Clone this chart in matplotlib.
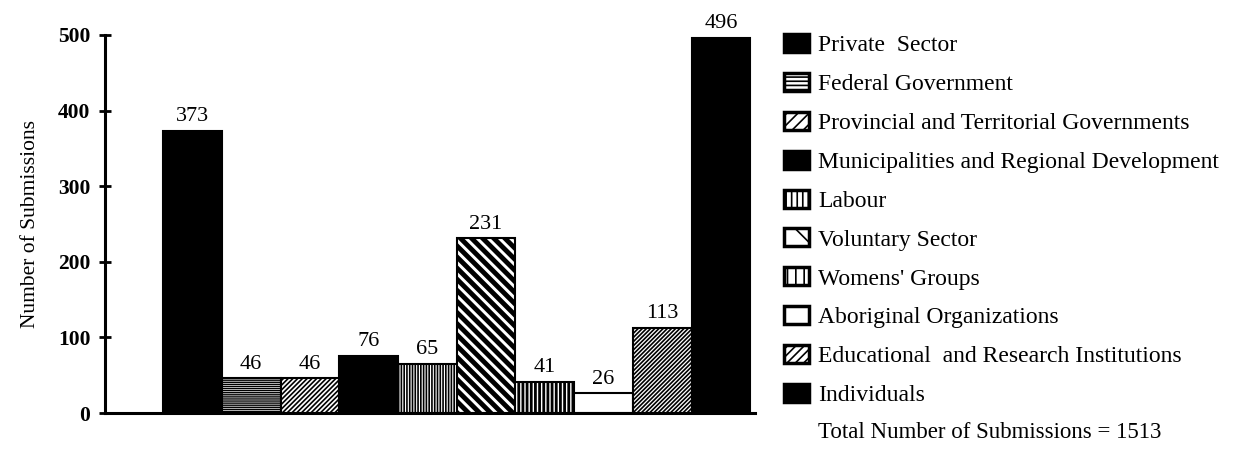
import matplotlib
matplotlib.use("Agg")
import matplotlib.pyplot as plt
from matplotlib.patches import Patch

categories = ["Private  Sector", "Federal Government",
              "Provincial and Territorial Governments",
              "Municipalities and Regional Development", "Labour",
              "Voluntary Sector", "Womens' Groups", "Aboriginal Organizations",
              "Educational  and Research Institutions", "Individuals"]
submissions = [373, 46, 46, 76, 65, 231, 41, 26, 113, 496]
total_text = "Total Number of Submissions = 1513"

# fill / hatch per bar (scan look)
faces = ["black", "white", "white", "black", "white",
         "white", "white", "white", "white", "black"]
hatches = [None, "--------", "///////", None, "||||||",
           "\\\\\\", "||||", None, "////////", None]
hatch_lw = [1, 1.0, 1.2, 1, 1.2, 3.5, 2.0, 1, 1.2, 1]

plt.rcParams["font.family"] = ["Liberation Serif", "DejaVu Serif"]
plt.rcParams["hatch.linewidth"] = 1.2

fig = plt.figure(figsize=(12.49, 4.61), dpi=100)
ax = fig.add_axes([105 / 1249, 48 / 461, 650 / 1249, 378 / 461])

xs = list(range(len(submissions)))
bars = ax.bar(xs, submissions, width=1.0, align="edge",
              color=faces, edgecolor="black", linewidth=1.5)
for b, h, lw in zip(bars, hatches, hatch_lw):
    if h:
        b.set_hatch(h)
        try:
            b.set_hatch_linewidth(lw)
        except AttributeError:
            pass

for x, v in zip(xs, submissions):
    ax.text(x + 0.5, v + 6, str(v), ha="center", va="bottom", fontsize=16)

ax.set_xlim(-0.99, 10.08)
ax.set_ylim(0, 500)
ax.set_yticks([0, 100, 200, 300, 400, 500])
ax.set_xticks([])
ax.tick_params(axis="y", direction="inout", length=9, width=2,
               labelsize=15.5, pad=6)
for lab in ax.get_yticklabels():
    lab.set_fontweight("bold")
ax.spines["top"].set_visible(False)
ax.spines["right"].set_visible(False)
ax.spines["left"].set_linewidth(2.2)
ax.spines["bottom"].set_linewidth(2.2)
ax.set_ylabel("Number of Submissions", fontsize=15.5, labelpad=13)

handles = []
for f, h in zip(faces, hatches):
    hh = h[:max(1, len(h) // 2)] if h else None
    p = Patch(facecolor=f, edgecolor="black", linewidth=2.5, hatch=hh)
    handles.append(p)
fig.legend(handles, categories, loc="upper left",
           bbox_to_anchor=(784 / 1249, 1 - 34 / 461), frameon=False,
           fontsize=17, handlelength=1.05, handleheight=0.8,
           handletextpad=0.4, labelspacing=0.705, borderpad=0,
           borderaxespad=0)
fig.text(818 / 1249, 1 - 432 / 461, total_text, fontsize=16.5,
         ha="left", va="center")

fig.savefig("out.png", dpi=100)
